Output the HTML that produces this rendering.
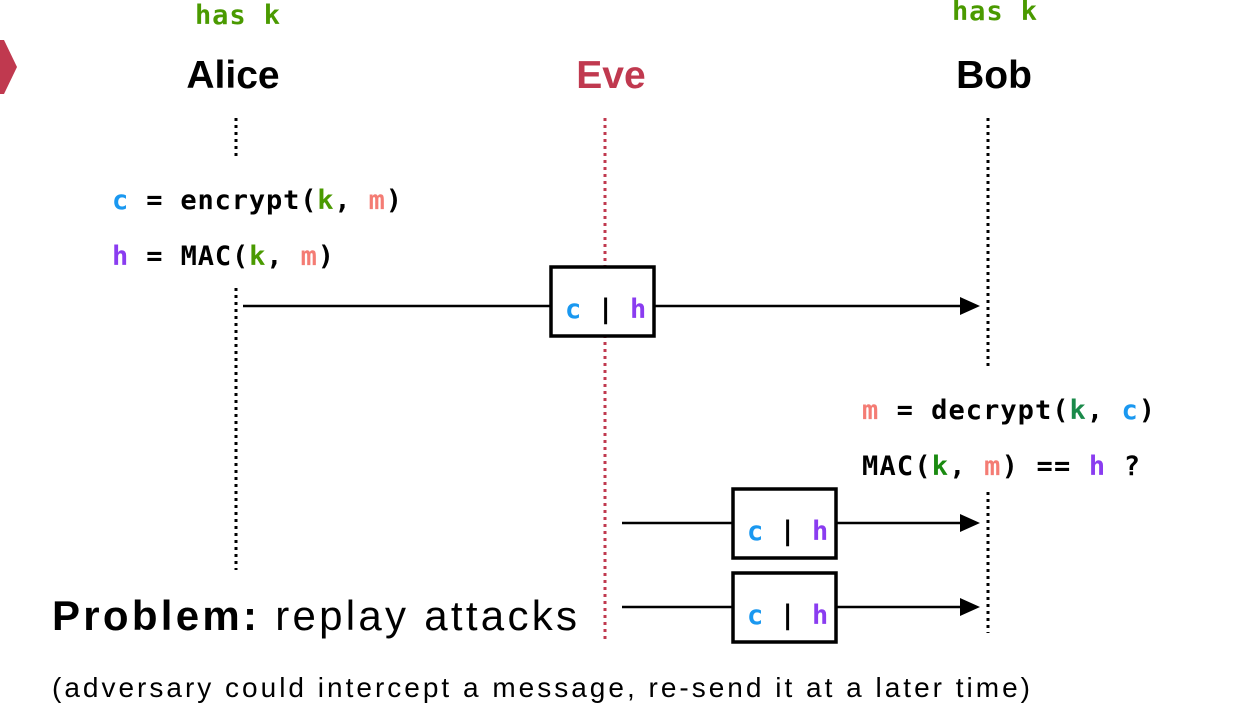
<!DOCTYPE html>
<html><head><meta charset="utf-8"><style>
html,body{margin:0;padding:0;background:#fff;width:1249px;height:710px;overflow:hidden}
svg{display:block}
.m{font-family:"DejaVu Sans Mono","Liberation Mono",monospace;font-weight:bold;font-size:27px}
.s{font-family:"Liberation Sans",sans-serif}
</style></head><body>
<svg width="1249" height="710" viewBox="0 0 1249 710">
<defs><marker id="a" markerWidth="10" markerHeight="10" refX="9" refY="5" orient="auto" markerUnits="userSpaceOnUse"><path d="M0,0 L18,5 L0,10z" transform="scale(1)"/></marker></defs>
<polygon points="0,40 4,40 17,67 4,94 0,94" fill="#c0394f"/>
<text class="m" x="195" y="24" fill="#4a9a00" font-weight="normal" textLength="85">has <tspan font-weight="bold">k</tspan></text>
<text class="m" x="952" y="20" fill="#4a9a00" font-weight="normal" textLength="85">has <tspan font-weight="bold">k</tspan></text>
<text class="s" x="233" y="88" font-size="39" font-weight="bold" text-anchor="middle">Alice</text>
<text class="s" x="611" y="88" font-size="39" font-weight="bold" text-anchor="middle" fill="#c0394f">Eve</text>
<text class="s" x="994" y="88" font-size="39" font-weight="bold" text-anchor="middle">Bob</text>
<g stroke="#000" stroke-width="3" stroke-dasharray="3,4">
<line x1="236" y1="118" x2="236" y2="156"/>
<line x1="236" y1="288" x2="236" y2="570"/>
<line x1="988" y1="118" x2="988" y2="366"/>
<line x1="988" y1="492" x2="988" y2="633"/>
</g>
<line x1="605" y1="118" x2="605" y2="642" stroke="#c0394f" stroke-width="3" stroke-dasharray="3,4"/>
<text class="m" x="112" y="209" textLength="290"><tspan fill="#1a98f0">c</tspan> = encrypt(<tspan fill="#4a9a00">k</tspan>, <tspan fill="#f47c74">m</tspan>)</text>
<text class="m" x="112" y="265" textLength="222"><tspan fill="#8a3cf0">h</tspan> = MAC(<tspan fill="#4a9a00">k</tspan>, <tspan fill="#f47c74">m</tspan>)</text>
<text class="m" x="862" y="419" textLength="293"><tspan fill="#f47c74">m</tspan> = decrypt(<tspan fill="#1a8a4a">k</tspan>, <tspan fill="#1a98f0">c</tspan>)</text>
<text class="m" x="862" y="475" textLength="278">MAC(<tspan fill="#1a8a10">k</tspan>, <tspan fill="#f47c74">m</tspan>) == <tspan fill="#8a3cf0">h</tspan> ?</text>
<g stroke="#000" stroke-width="2.5">
<line x1="243" y1="306" x2="550" y2="306"/>
<line x1="655" y1="306" x2="970" y2="306"/>
<line x1="622" y1="523" x2="732" y2="523"/>
<line x1="837" y1="523" x2="970" y2="523"/>
<line x1="622" y1="607" x2="732" y2="607"/>
<line x1="837" y1="607" x2="970" y2="607"/>
</g>
<path d="M960,297 L980,306 L960,315z M960,514 L980,523 L960,532z M960,598 L980,607 L960,616z"/>
<g fill="#fff" stroke="#000" stroke-width="3.5">
<rect x="551" y="267" width="103" height="69"/>
<rect x="733" y="489" width="103" height="69"/>
<rect x="733" y="573" width="103" height="69"/>
</g>
<g class="m">
<text x="565" y="318"><tspan fill="#1a98f0">c</tspan> | <tspan fill="#8a3cf0">h</tspan></text>
<text x="747" y="540"><tspan fill="#1a98f0">c</tspan> | <tspan fill="#8a3cf0">h</tspan></text>
<text x="747" y="624"><tspan fill="#1a98f0">c</tspan> | <tspan fill="#8a3cf0">h</tspan></text>
</g>
<text class="s" x="52" y="630" font-size="42" textLength="525"><tspan font-weight="bold">Problem:</tspan> replay attacks</text>
<text class="s" x="52" y="697" font-size="28" textLength="978">(adversary could intercept a message, re-send it at a later time)</text>
</svg>
</body></html>
